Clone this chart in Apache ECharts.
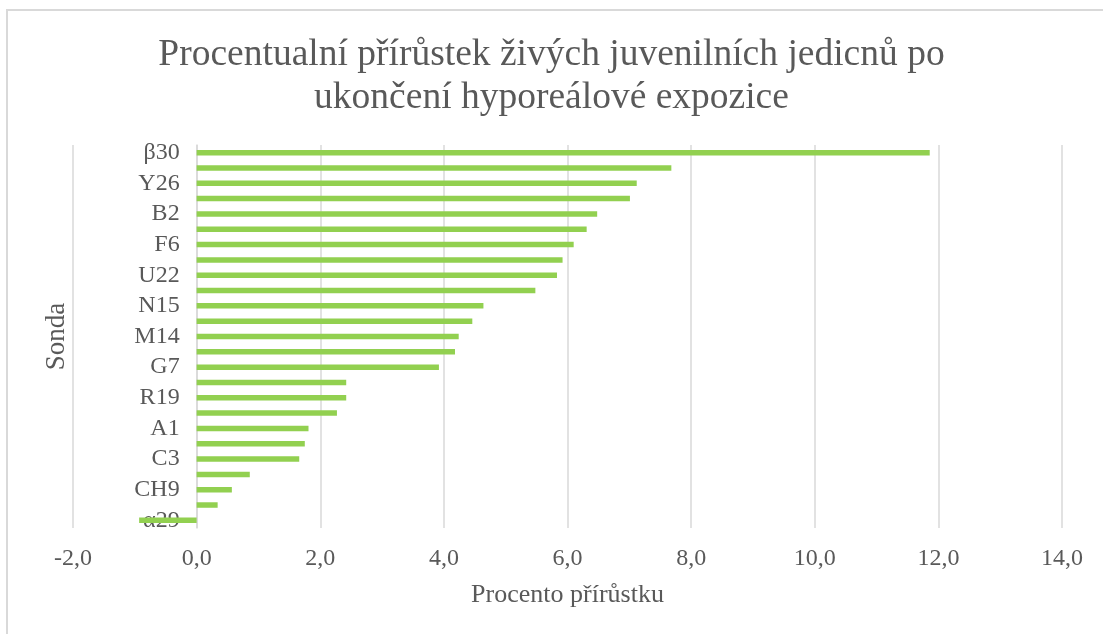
<!DOCTYPE html>
<html>
<head>
<meta charset="utf-8">
<script src="https://cdn.jsdelivr.net/npm/echarts@6/dist/echarts.min.js"></script>
<style>
    html, body { margin: 0; padding: 0; background: #fff; }
    #chart { width: 1103px; height: 634px; }
</style>
</head>
<body>
<div id="chart"></div>
<script>
// sondy shora dolu
var categories = ['β30', 'Z27', 'Y26', 'D4', 'B2', 'E5', 'F6', 'V23', 'U22', 'O16', 'N15', 'L13', 'M14',
    'H8', 'G7', 'S20', 'R19', 'T21', 'A1', 'K11', 'C3', 'P17', 'CH9', 'I10', 'α29'];
var values = [11.86, 7.68, 7.12, 7.01, 6.48, 6.31, 6.10, 5.92, 5.83, 5.48, 4.64, 4.46, 4.24,
    4.18, 3.92, 2.42, 2.42, 2.27, 1.81, 1.75, 1.66, 0.86, 0.57, 0.34, -0.93];
var xTicks = { min: -2, max: 14, interval: 2 };

var font = 'Liberation Serif';
var grey = '#595959';
var gridLeft = 73, gridRight = 41;
// posun osy kategorii na nulu (-2..14 => 2/16 sirky)
var plotW = 1103 - gridLeft - gridRight;
var zeroShift = plotW * (0 - xTicks.min) / (xTicks.max - xTicks.min);

var chart = echarts.init(document.getElementById('chart'));
var option = {
    backgroundColor: '#fff',
    title: {
        text: 'Procentualní přírůstek živých juvenilních jedicnů po\nukončení hyporeálové expozice',
        left: 'center',
        top: 29,
        textStyle: { fontFamily: font, fontSize: 37.5, fontWeight: 'normal', color: grey, lineHeight: 43 }
    },
    graphic: [{
        type: 'rect',
        shape: { x: 7, y: 10, width: 1200, height: 700 },
        style: { fill: 'none', stroke: '#d9d9d9', lineWidth: 2 },
        silent: true
    }],
    grid: { left: gridLeft, right: gridRight, top: 145, bottom: 106, containLabel: false, outerBoundsMode: 'none' },
    xAxis: {
        type: 'value',
        min: xTicks.min,
        max: xTicks.max,
        interval: xTicks.interval,
        name: 'Procento přírůstku',
        nameLocation: 'middle',
        nameGap: 54,
        nameTextStyle: { fontFamily: font, fontSize: 26, color: grey },
        axisLine: { show: false },
        axisTick: { show: false },
        axisLabel: {
            fontFamily: font, fontSize: 24, color: grey, margin: 19,
            formatter: function (v) { return v.toFixed(1).replace('.', ','); }
        },
        splitLine: { lineStyle: { color: '#d9d9d9', width: 1.5 } }
    },
    yAxis: {
        type: 'category',
        data: categories,
        inverse: true,
        offset: -zeroShift,
        name: 'Sonda',
        nameLocation: 'middle',
        nameGap: 126,
        nameRotate: 90,
        nameTextStyle: { fontFamily: font, fontSize: 27, color: grey },
        axisLine: { onZero: false, lineStyle: { color: '#d9d9d9', width: 1.5 } },
        axisTick: { show: false },
        axisLabel: { fontFamily: font, fontSize: 24, color: grey, margin: 17, interval: 1 }
    },
    series: [{
        type: 'bar',
        data: values,
        barWidth: 5.5,
        itemStyle: { color: '#92d050' }
    }]
};
chart.setOption(option);
</script>
</body>
</html>
